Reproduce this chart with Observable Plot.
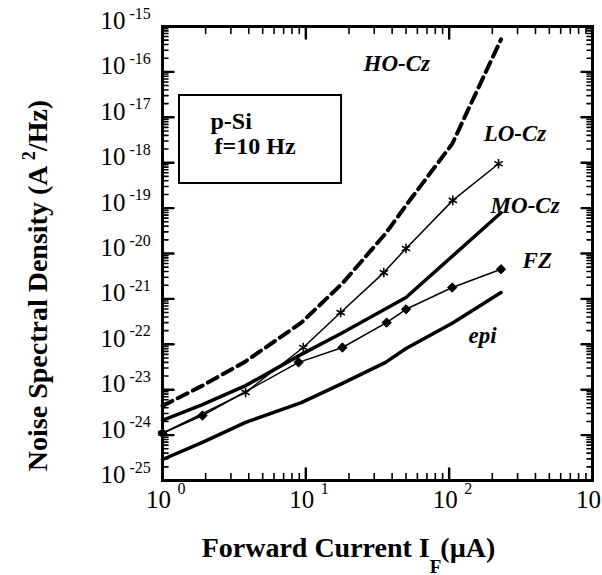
<!DOCTYPE html>
<html><head><meta charset="utf-8">
<script src="https://cdn.jsdelivr.net/npm/d3@7"></script>
<script src="https://cdn.jsdelivr.net/npm/@observablehq/plot@0.6"></script>
<style>html,body{margin:0;padding:0;background:#fff;} svg{display:block;}</style>
</head><body><div id="chart"></div>
<script>
// ---- data ----
const hoX  = [1, 1.9, 3.8, 9.3, 18, 36, 50, 105, 230];
const hoY  = [4.4e-24, 1.23e-23, 4.2e-23, 3.0e-22, 2.2e-21, 2.75e-20, 1.15e-19, 2.6e-18, 5.2e-16];
const loX  = [1, 3.8, 9.6, 17.5, 35, 50, 106, 221];
const loY  = [1.1e-24, 8.7e-24, 8.5e-23, 5.0e-22, 3.8e-21, 1.29e-20, 1.48e-19, 9.5e-19];
const moX  = [1, 1.9, 3.8, 9.3, 18, 50, 230];
const moY  = [2.1e-24, 4.7e-24, 1.23e-23, 6.0e-23, 1.8e-22, 1.07e-21, 7.9e-20];
const fzX  = [1, 1.9, 8.9, 18, 36.6, 50, 105, 230];
const fzY  = [1.1e-24, 2.7e-24, 4.0e-23, 8.5e-23, 3.0e-22, 5.9e-22, 1.78e-21, 4.5e-21];
const epiX = [1, 1.9, 3.8, 9.3, 18, 36, 50, 105, 230];
const epiY = [2.9e-25, 6.9e-25, 1.9e-24, 5.2e-24, 1.38e-23, 4.0e-23, 8.1e-23, 2.9e-22, 1.38e-21];

const curveLabels = ["HO-Cz", "LO-Cz", "MO-Cz", "FZ", "epi"];
const labelX = [25.3, 174, 194.5, 325, 136.6];
const labelY = [1.55e-16, 4.4e-18, 1.15e-19, 7.1e-21, 1.55e-22];

const boxLines = ["p-Si", "f=10 Hz"];
const boxLineX = [2.16, 2.31];
const boxLineY = [8.3e-18, 2.34e-18];
const boxExtent = {x1: 1.314, x2: 17.75, y1: 3.48e-19, y2: 3.02e-17};

const xTickValues = [1, 10, 100, 1000];
const xTickExponents = ["0", "1", "2", "3"];
const yTickValues = [1e-25, 1e-24, 1e-23, 1e-22, 1e-21, 1e-20, 1e-19, 1e-18, 1e-17, 1e-16, 1e-15];
const yTickExponents = ["-25", "-24", "-23", "-22", "-21", "-20", "-19", "-18", "-17", "-16", "-15"];

const xMinor = [];
for (const p of [1, 10, 100]) for (let m = 2; m <= 9; m++) xMinor.push(m * p);
const yMinor = [];
for (let e = -25; e < -15; e++) for (let m = 2; m <= 9; m++) yMinor.push(m * Math.pow(10, e));

const pts = (xs, ys) => xs.map((x, i) => ({x, y: ys[i]}));
const ho = pts(hoX, hoY), lo = pts(loX, loY), mo = pts(moX, moY), fz = pts(fzX, fzY), epi = pts(epiX, epiY);
const labels = curveLabels.map((t, i) => ({t, x: labelX[i], y: labelY[i]}));
const boxText = boxLines.map((t, i) => ({t, x: boxLineX[i], y: boxLineY[i]}));

const W = 602, H = 575, mL = 162, mT = 26, mR = 10, mB = 95;
const iW = W - mL - mR, iH = H - mT - mB;
const serif = "'Liberation Serif', 'Times New Roman', Times, serif";
const xDom = [1, 1000], yDom = [1e-25, 1e-15];

// tick segments as two-point polylines, drawn through Plot's log scales
const yStep = len => Math.pow(10, len * Math.log10(yDom[1] / yDom[0]) / iH);
const xStep = len => Math.pow(10, len * Math.log10(xDom[1] / xDom[0]) / iW);
const majorRows = [], minorRows = [];
let tid = 0;
const pushX = (rows, vals, len) => vals.forEach(v => {
  rows.push({id: tid, x: v, y: yDom[0]}, {id: tid++, x: v, y: yDom[0] * yStep(len)});
  rows.push({id: tid, x: v, y: yDom[1]}, {id: tid++, x: v, y: yDom[1] / yStep(len)});
});
const pushY = (rows, vals, len) => vals.forEach(v => {
  rows.push({id: tid, x: xDom[0], y: v}, {id: tid++, x: xDom[0] * xStep(len), y: v});
  rows.push({id: tid, x: xDom[1], y: v}, {id: tid++, x: xDom[1] / xStep(len), y: v});
});
pushX(majorRows, xTickValues, 12);
pushY(majorRows, yTickValues, 11);
pushX(minorRows, xMinor, 7);
pushY(minorRows, yMinor, 5.5);

const svg = Plot.plot({
  width: W, height: H,
  marginLeft: mL, marginTop: mT, marginRight: mR, marginBottom: mB,
  style: {fontFamily: serif, background: "#fff", color: "#000"},
  x: {type: "log", domain: xDom, axis: null},
  y: {type: "log", domain: yDom, axis: null},
  marks: [
    Plot.frame({stroke: "#000", strokeWidth: 3}),
    // inward ticks on all four sides
    Plot.line(majorRows, {x: "x", y: "y", z: "id", stroke: "#000", strokeWidth: 2.4}),
    Plot.line(minorRows, {x: "x", y: "y", z: "id", stroke: "#000", strokeWidth: 1.6}),
    // tick labels
    Plot.text(xTickValues, {x: d => d, frameAnchor: "bottom", text: () => "10", dx: 8.5, dy: 27.5, textAnchor: "end", fontSize: 25, fill: "#000"}),
    Plot.text(xTickValues, {x: d => d, frameAnchor: "bottom", text: (d, i) => xTickExponents[i], dx: 15, dy: 13, textAnchor: "start", fontSize: 16, fill: "#000"}),
    Plot.text(yTickValues, {y: d => d, frameAnchor: "left", text: () => "10", dx: -37, dy: -5.5, textAnchor: "end", fontSize: 25, fill: "#000"}),
    Plot.text(yTickValues, {y: d => d, frameAnchor: "left", text: (d, i) => yTickExponents[i], dx: -33, dy: -13, textAnchor: "start", fontSize: 16, fill: "#000"}),
    // legend box
    Plot.rect([boxExtent], {x1: "x1", x2: "x2", y1: "y1", y2: "y2", fill: "none", stroke: "#000", strokeWidth: 2}),
    Plot.text(boxText, {x: "x", y: "y", text: "t", textAnchor: "start", fontSize: 24, fontWeight: "bold", fill: "#000"}),
    // curves
    Plot.line(ho, {x: "x", y: "y", stroke: "#000", strokeWidth: 4, strokeDasharray: "11,6"}),
    Plot.line(epi, {x: "x", y: "y", stroke: "#000", strokeWidth: 3.5}),
    Plot.line(mo, {x: "x", y: "y", stroke: "#000", strokeWidth: 3.5}),
    Plot.line(lo, {x: "x", y: "y", stroke: "#000", strokeWidth: 1.5}),
    Plot.line(fz, {x: "x", y: "y", stroke: "#000", strokeWidth: 1.5}),
    Plot.dot(lo, {x: "x", y: "y", symbol: "asterisk", r: 4.5, stroke: "#000", strokeWidth: 1.6}),
    Plot.dot(fz, {x: "x", y: "y", symbol: "diamond2", r: 4.2, fill: "#000", stroke: "#000", strokeWidth: 1}),
    // curve labels
    Plot.text(labels, {x: "x", y: "y", text: "t", textAnchor: "start", fontSize: 23, fontWeight: "bold", fontStyle: "italic", fill: "#000"})
  ]
});

const s = d3.select(svg);
// x-axis title
const xt = s.append("text").attr("x", 348.5).attr("y", 557).attr("text-anchor", "middle")
  .attr("font-family", serif).attr("font-size", 28).attr("font-weight", "bold").attr("fill", "#000");
xt.append("tspan").text("Forward Current I");
xt.append("tspan").attr("dy", 16).attr("font-size", 19).text("F");
xt.append("tspan").attr("dy", -16).attr("dx", -1).text("(\u00b5A)");
// y-axis title
const yt = s.append("text").attr("transform", "translate(47,285.5) rotate(-90)").attr("text-anchor", "middle")
  .attr("font-family", serif).attr("font-size", 28).attr("font-weight", "bold").attr("fill", "#000");
yt.append("tspan").text("Noise Spectral Density (A ");
yt.append("tspan").attr("dy", -12).attr("font-size", 18).text("2");
yt.append("tspan").attr("dy", 12).text("/Hz)");

document.getElementById("chart").appendChild(svg);
</script>
</body></html>
